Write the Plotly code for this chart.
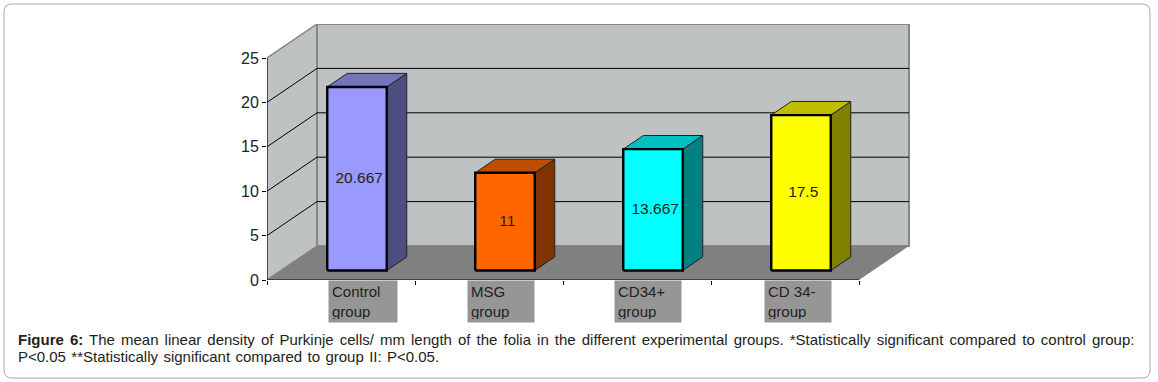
import plotly.graph_objects as go

categories = ["Control<br>group", "MSG<br>group", "CD34+<br>group", "CD 34-<br>group"]
values = [20.667, 11, 13.667, 17.5]
value_labels = ["20.667", "11", "13.667", "17.5"]
y_ticks = [0, 5, 10, 15, 20, 25]
front_colors = ["#9999FF", "#FF6600", "#00FFFF", "#FFFF00"]
top_colors = ["#7373BF", "#BF4D00", "#00BFBF", "#BFBF00"]
side_colors = ["#4D4D80", "#803300", "#008080", "#808000"]
label_left_px = [328, 467, 614, 764]
label_width_px = [62, 60, 60, 60]
caption_bold = "Figure 6:"
caption_1 = "The mean linear density of Purkinje cells/ mm length of the folia in the different experimental groups. *Statistically significant compared to control group:"
caption_2 = "P&lt;0.05 **Statistically significant compared to group II: P&lt;0.05."

# pixel geometry of the axes
L, R, T, B = 267, 912, 24, 280
UX, UY = 148, 8.88
DX, DY = 50 / UX, 34 / UY
BAR_W = 59.5 / UX
BAR_SHIFT = 1 / UX
D0, D1 = 0.28, 0.68  # bar depth span as a share of the floor depth
ymax = (B - T) / UY
xmax = (R - L) / UX
WALL, FLOOR, EDGE = "#BEC2C3", "#808080", "#868686"
FONT = "Liberation Sans, Arial, sans-serif"

fig = go.Figure()


def poly(xs, ys, fill, line="rgba(0,0,0,0)", width=0):
    fig.add_trace(go.Scatter(x=xs + xs[:1], y=ys + ys[:1], mode="lines", fill="toself", fillcolor=fill,
                             line=dict(color=line, width=width), hoverinfo="skip", showlegend=False, cliponaxis=False))


def seg(xs, ys, color="#000000", width=1):
    fig.add_trace(go.Scatter(x=xs, y=ys, mode="lines", line=dict(color=color, width=width),
                             hoverinfo="skip", showlegend=False, cliponaxis=False))


# walls and floor
poly([0, DX, DX, 0], [0, DY, 25 + DY, 25], WALL, EDGE, 1.5)
poly([DX, 4 + DX, 4 + DX, DX], [DY, DY, 25 + DY, 25 + DY], WALL, EDGE, 2)
poly([0, 4, 4 + DX, DX], [0, 0, DY, DY], FLOOR)
for t in y_ticks[1:-1]:
    seg([0, DX, 4 + DX], [t, t + DY, t + DY])
seg([0, 0], [0, 25])
seg([0, 4], [0, 0])

# bars
for i, v in enumerate(values):
    x0 = i + 0.5 - BAR_W / 2 + 0.30 * DX + BAR_SHIFT
    x1 = x0 + BAR_W
    y0 = D0 * DY
    dx, dy = (D1 - D0) * DX, (D1 - D0) * DY
    poly([x1, x1 + dx, x1 + dx, x1], [y0, y0 + dy, y0 + dy + v, y0 + v], side_colors[i], "#222222", 1)
    poly([x0, x1, x1 + dx, x0 + dx], [y0 + v, y0 + v, y0 + v + dy, y0 + v + dy], top_colors[i], "#222222", 1)
    poly([x0, x1, x1, x0], [y0, y0, y0 + v, y0 + v], front_colors[i], "#000000", 2.4)
    fig.add_trace(go.Scatter(x=[(x0 + x1) / 2 + 0.015], y=[y0 + v / 2], mode="text", text=[value_labels[i]],
                             textposition="middle center", textfont=dict(family=FONT, size=15.5, color="#222222"),
                             hoverinfo="skip", showlegend=False, cliponaxis=False))

px = lambda p: (p - L) / (R - L)
py = lambda p: (B - p) / (B - T)

annotations = []
for lab, lx, lw in zip(categories, label_left_px, label_width_px):
    annotations.append(dict(xref="paper", yref="paper", x=px(lx), y=py(280), xanchor="left", yanchor="top",
                            text=lab, showarrow=False, align="left", width=lw, height=35, bgcolor="#969696",
                            borderpad=3, font=dict(family=FONT, size=15, color="#222222")))
annotations.append(dict(xref="paper", yref="paper", x=px(16), y=py(339), xanchor="left", yanchor="middle", align="left",
                        text="<b>" + caption_bold + "</b> " + caption_1, showarrow=False,
                        font=dict(family=FONT, size=15, color="#222222")))
annotations.append(dict(xref="paper", yref="paper", x=px(16), y=py(356), xanchor="left", yanchor="middle", align="left",
                        text=caption_2, showarrow=False, font=dict(family=FONT, size=15, color="#222222")))

x0f, x1f, y0f, y1f, r = px(4), px(1150), py(4), py(378), 8
rx, ry = r / (R - L), r / (B - T)
frame = (f"M {x0f+rx} {y0f} L {x1f-rx} {y0f} Q {x1f} {y0f} {x1f} {y0f-ry} L {x1f} {y1f+ry} "
         f"Q {x1f} {y1f} {x1f-rx} {y1f} L {x0f+rx} {y1f} Q {x0f} {y1f} {x0f} {y1f+ry} L {x0f} {y0f-ry} "
         f"Q {x0f} {y0f} {x0f+rx} {y0f} Z")

fig.update_layout(
    width=1158, height=382, autosize=False, margin=dict(l=L, r=1158 - R, t=T, b=382 - B),
    paper_bgcolor="#FFFFFF", plot_bgcolor="rgba(0,0,0,0)", showlegend=False,
    shapes=[dict(type="path", path=frame, xref="paper", yref="paper", line=dict(color="#A8A8A8", width=1), layer="below")],
    annotations=annotations,
    xaxis=dict(range=[0, xmax], tickmode="array", tickvals=[0, 1, 2, 3, 4], ticktext=[""] * 5, ticks="outside",
               ticklen=4, tickcolor="#000000", showgrid=False, zeroline=False, showline=False, fixedrange=True),
    yaxis=dict(range=[0, ymax], tickmode="array", tickvals=y_ticks, ticks="outside", ticklen=4, tickcolor="#000000",
               showgrid=False, zeroline=False, showline=False, fixedrange=True,
               tickfont=dict(family=FONT, size=16, color="#222222")),
)
post = """
document.body.style.margin = '0';
document.querySelectorAll('.annotation-text').forEach(function (t) {
  if (t.textContent.indexOf('Figure 6') === 0) { t.style.wordSpacing = '1.9px'; }
  if (t.textContent.indexOf('P<0.05') === 0) { t.style.wordSpacing = '1.2px'; }
});
"""
fig.write_html("out.html", config=dict(displayModeBar=False), post_script=post)
